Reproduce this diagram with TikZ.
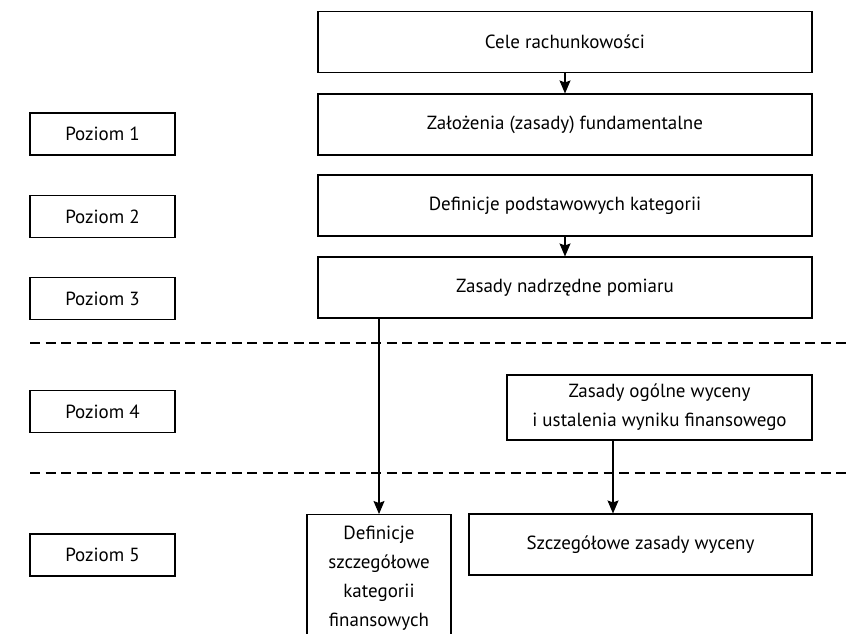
\documentclass[tikz,border=0pt]{standalone}
\usepackage{fontspec}
\setmainfont{PT Sans}
\usetikzlibrary{arrows.meta,positioning}

\begin{document}
\begin{tikzpicture}[x=1pt,y=-1pt,line width=1.1pt,>={Stealth[length=13pt,width=11pt,inset=2pt]},
    box/.style={draw,align=center,inner sep=0pt,font=\fontsize{19}{29}\selectfont},
    lvl/.style={box,minimum width=145pt,minimum height=42pt},
    wide/.style={box,minimum width=494pt,minimum height=61pt},
    sep/.style={dash pattern=on 10pt off 5.5pt}]
  \clip (0,0) rectangle (849,633);
  % levels
  \node[lvl] (P1) at (102.5,134) {Poziom 1};
  \node[lvl] (P2) at (102.5,216.5) {Poziom 2};
  \node[lvl] (P3) at (102.5,298.5) {Poziom 3};
  \node[lvl] (P4) at (102.5,411.5) {Poziom 4};
  \node[lvl] (P5) at (102.5,555) {Poziom 5};
  % main chain
  \node[wide] (cele) at (565,42) {Cele rachunkowości};
  \node[wide] (zal) at (565,124.5) {Założenia (zasady) fundamentalne};
  \node[wide] (defp) at (565,205.5) {Definicje podstawowych kategorii};
  \node[wide] (zasn) at (565,287.5) {Zasady nadrzędne pomiaru};
  \node[box,minimum width=305pt,minimum height=65pt] (ogol) at (659.5,407.5)
    {Zasady ogólne wyceny\\i ustalenia wyniku finansowego};
  \node[box,minimum width=343pt,minimum height=61pt] (szcz) at (640.5,544.5)
    {Szczegółowe zasady wyceny};
  \node[box,anchor=north,minimum width=144pt,inner ysep=11pt] (defs) at (379,514)
    {Definicje\\szczegółowe\\kategorii\\finansowych};
  % separators
  \draw[sep] (30,343) -- (849,343);
  \draw[sep] (30,473) -- (849,473);
  % arrows
  \draw[->] (cele) -- (zal);
  \draw[->] (defp) -- (zasn);
  \draw[->] (zasn.south -| defs.north) -- (defs.north);
  \draw[->] ([xshift=-46.5pt]ogol.south) -- ([xshift=-27.5pt]szcz.north);
\end{tikzpicture}
\end{document}
